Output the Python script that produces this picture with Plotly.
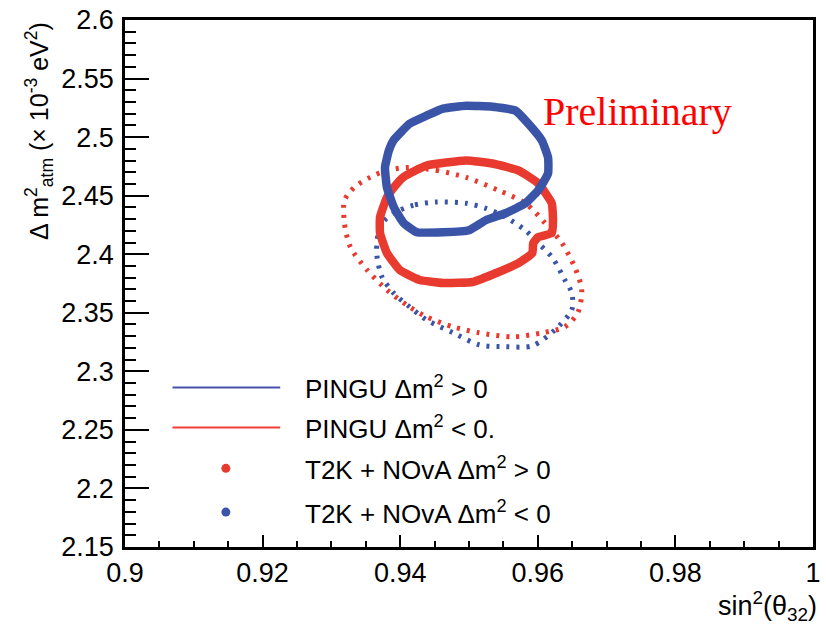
import plotly.graph_objects as go

# ---------------- data ----------------
pingu_pos_x = [0.9390, 0.94138, 0.94382, 0.94622, 0.94957, 0.95341, 0.95675, 0.95862,
               0.96059, 0.96149, 0.96149, 0.96006, 0.95819, 0.95532, 0.95244, 0.95000,
               0.94622, 0.94239, 0.94052, 0.93908, 0.93807, 0.93779, 0.93836]
pingu_pos_y = [2.4971, 2.5115, 2.5183, 2.5243, 2.5268, 2.5260, 2.5226, 2.5115,
               2.4971, 2.4826, 2.4690, 2.4545, 2.4435, 2.4350, 2.4290, 2.4205,
               2.4188, 2.4188, 2.4265, 2.4401, 2.4571, 2.4741, 2.4886]

pingu_neg_x = [0.94047, 0.94382, 0.94957, 0.95341, 0.95718, 0.96006, 0.96203, 0.96221,
               0.96203, 0.96006, 0.95934, 0.95920, 0.95718, 0.95431, 0.95057, 0.94626,
               0.94282, 0.93994, 0.93807, 0.93707, 0.93707, 0.93807, 0.93908]
pingu_neg_y = [2.4659, 2.4758, 2.4801, 2.4775, 2.4716, 2.4605, 2.4435, 2.4290,
               2.4180, 2.4146, 2.4095, 2.4010, 2.3924, 2.3848, 2.3763, 2.3754,
               2.3780, 2.3865, 2.4010, 2.4180, 2.4316, 2.4486, 2.4571]

t2k_red_x = [0.94138, 0.94526, 0.94957, 0.95431, 0.95819, 0.96106, 0.96351, 0.96537,
             0.96638, 0.96580, 0.96394, 0.96063, 0.95632, 0.95144, 0.94770, 0.94382,
             0.94138, 0.93807, 0.93520, 0.93276, 0.93190, 0.93190, 0.93333, 0.93563,
             0.93807]
t2k_red_y = [2.4741, 2.4716, 2.4656, 2.4545, 2.4435, 2.4265, 2.4095, 2.3890,
             2.3695, 2.3499, 2.3380, 2.3329, 2.3295, 2.3329, 2.3380, 2.3465,
             2.3550, 2.3695, 2.3865, 2.4061, 2.4265, 2.4460, 2.4571, 2.4656,
             2.4716]

t2k_blue_x = [0.94526, 0.94191, 0.93904, 0.93736, 0.93664, 0.93664, 0.93736, 0.93904,
              0.94138, 0.94382, 0.94770, 0.95144, 0.95532, 0.95920, 0.96250, 0.96494,
              0.96494, 0.96394, 0.96207, 0.96006, 0.95819, 0.95532, 0.95244, 0.94957]
t2k_blue_y = [2.4446, 2.4418, 2.4350, 2.4265, 2.4120, 2.3975, 2.3805, 2.3669,
              2.3550, 2.3440, 2.3329, 2.3227, 2.3210, 2.3218, 2.3355, 2.3525,
              2.3669, 2.3780, 2.3975, 2.4095, 2.4205, 2.4316, 2.4392, 2.4435]

x_tick_vals = [0.9, 0.92, 0.94, 0.96, 0.98, 1.0]
x_tick_text = ["0.9", "0.92", "0.94", "0.96", "0.98", "1"]
y_tick_vals = [2.15, 2.2, 2.25, 2.3, 2.35, 2.4, 2.45, 2.5, 2.55, 2.6]
y_tick_text = ["2.15", "2.2", "2.25", "2.3", "2.35", "2.4", "2.45", "2.5", "2.55", "2.6"]

legend_labels = ["PINGU Δm<sup>2</sup> > 0",
                 "PINGU Δm<sup>2</sup> < 0.",
                 "T2K + NOvA Δm<sup>2</sup> > 0",
                 "T2K + NOvA Δm<sup>2</sup> < 0"]

# ---------------- styles ----------------
BLUE = "rgb(58,84,168)"
RED = "rgb(233,58,48)"
LEG_BLUE = "rgb(72,82,172)"
LEG_RED = "rgb(240,62,58)"
FONT = "Liberation Sans, Arial, sans-serif"


def closed(v):
    return list(v) + [v[0]]


fig = go.Figure()
fig.add_trace(go.Scatter(x=closed(t2k_red_x), y=closed(t2k_red_y), mode="lines",
                         line=dict(color=RED, width=5, dash="3px,7px", shape="spline",
                                   smoothing=0.8),
                         showlegend=False, hoverinfo="skip"))
fig.add_trace(go.Scatter(x=closed(t2k_blue_x), y=closed(t2k_blue_y), mode="lines",
                         line=dict(color=BLUE, width=5, dash="3px,7px", shape="spline",
                                   smoothing=0.8),
                         showlegend=False, hoverinfo="skip"))
fig.add_trace(go.Scatter(x=closed(pingu_neg_x), y=closed(pingu_neg_y), mode="lines",
                         line=dict(color=RED, width=8.5, shape="spline", smoothing=0.4),
                         showlegend=False, hoverinfo="skip"))
fig.add_trace(go.Scatter(x=closed(pingu_pos_x), y=closed(pingu_pos_y), mode="lines",
                         line=dict(color=BLUE, width=8.5, shape="spline", smoothing=0.4),
                         showlegend=False, hoverinfo="skip"))

# ---------------- manual legend (ROOT-style) ----------------
leg_rows_y = [0.3025, 0.2268, 0.1493, 0.0662]
shapes = []
shapes.append(dict(type="line", xref="paper", yref="paper", x0=0.069, x1=0.2256,
                   y0=leg_rows_y[0], y1=leg_rows_y[0], line=dict(color=LEG_BLUE, width=2)))
shapes.append(dict(type="line", xref="paper", yref="paper", x0=0.069, x1=0.2256,
                   y0=leg_rows_y[1], y1=leg_rows_y[1], line=dict(color=LEG_RED, width=2)))
for yy, col in [(leg_rows_y[2], RED), (leg_rows_y[3], BLUE)]:
    shapes.append(dict(type="circle", xref="paper", yref="paper",
                       xsizemode="pixel", ysizemode="pixel",
                       xanchor=0.1466, yanchor=yy, x0=-4.5, x1=4.5, y0=-4.5, y1=4.5,
                       fillcolor=col, line=dict(width=0)))

annotations = []
for yy, lab in zip(leg_rows_y, legend_labels):
    annotations.append(dict(xref="paper", yref="paper", x=0.2586, y=yy,
                            xanchor="left", yanchor="middle", showarrow=False,
                            text=lab, font=dict(family=FONT, size=26, color="black")))

# Preliminary
annotations.append(dict(xref="paper", yref="paper", x=0.605, y=0.826,
                        xanchor="left", yanchor="middle", showarrow=False,
                        text="Preliminary",
                        font=dict(family="Liberation Serif, Times New Roman, serif",
                                  size=40, color="rgb(255,0,0)")))
# axis titles
annotations.append(dict(xref="paper", yref="paper", x=1.008, y=-0.112,
                        xanchor="right", yanchor="middle", showarrow=False,
                        text="sin<sup>2</sup>(θ<sub>32</sub>)",
                        font=dict(family=FONT, size=27, color="black")))
annotations.append(dict(xref="paper", yref="paper", x=-0.125, y=1.0,
                        xanchor="center", yanchor="top", showarrow=False, textangle=-90,
                        text="Δ m<sup>2</sup><sub>atm</sub> (× 10<sup>-3</sup> eV<sup>2</sup>)",
                        font=dict(family=FONT, size=25, color="black")))

fig.update_layout(
    width=826, height=625,
    margin=dict(l=125, r=5, t=19, b=78),
    paper_bgcolor="white", plot_bgcolor="white",
    shapes=shapes, annotations=annotations,
    showlegend=False,
    xaxis=dict(range=[0.9, 1.0], tickvals=x_tick_vals, ticktext=x_tick_text,
               showgrid=False, zeroline=False,
               showline=True, linecolor="black", linewidth=2.5, mirror=True,
               ticks="inside", ticklen=12, tickwidth=2, tickcolor="black",
               minor=dict(ticks="inside", ticklen=6, tickwidth=2, dtick=0.005,
                          tickcolor="black", showgrid=False),
               tickfont=dict(family=FONT, size=27, color="black")),
    yaxis=dict(range=[2.15, 2.6], tickvals=y_tick_vals, ticktext=y_tick_text,
               showgrid=False, zeroline=False,
               showline=True, linecolor="black", linewidth=2.5, mirror=True,
               ticks="inside", ticklen=24, tickwidth=2, tickcolor="black",
               ticklabelstandoff=3,
               minor=dict(ticks="inside", ticklen=11, tickwidth=2, dtick=0.01,
                          tickcolor="black", showgrid=False),
               tickfont=dict(family=FONT, size=27, color="black")),
)

fig.write_html("out.html")
